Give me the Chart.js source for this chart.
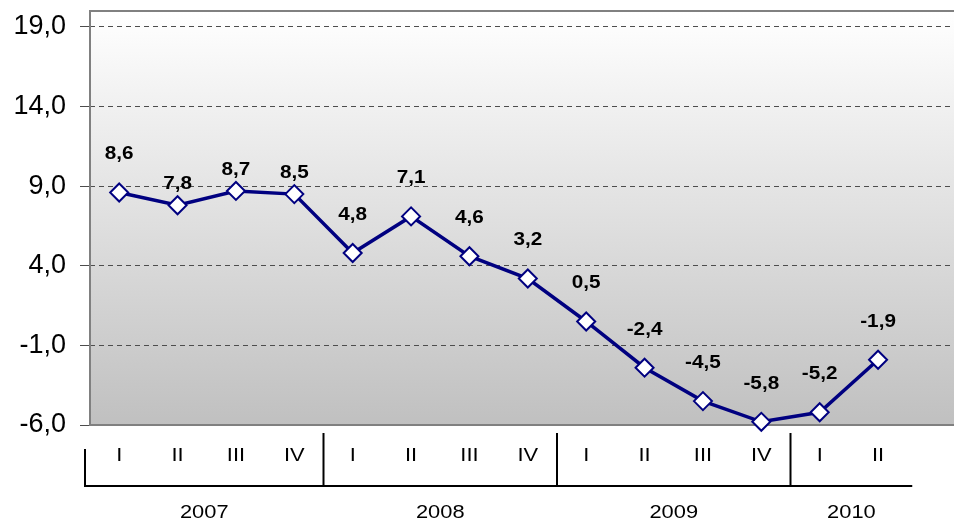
<!DOCTYPE html>
<html>
<head>
<meta charset="utf-8">
<script src="https://cdn.jsdelivr.net/npm/chart.js@4"></script>
<style>
  html, body { margin: 0; padding: 0; background: #fff; overflow: hidden; width: 954px; height: 521px; }
</style>
</head>
<body>
<canvas id="grafik" width="1035" height="521"></canvas>
<script>
// Data
const kuartal = ["I", "II", "III", "IV", "I", "II", "III", "IV", "I", "II", "III", "IV", "I", "II"];
const tahun = ["2007", "2008", "2009", "2010"];
const jumlahKuartal = [4, 4, 4, 2];
const nilai = [8.6, 7.8, 8.7, 8.5, 4.8, 7.1, 4.6, 3.2, 0.5, -2.4, -4.5, -5.8, -5.2, -1.9];
const yTicks = [-6, -1, 4, 9, 14, 19];

const FONT = "'Liberation Sans', Arial, sans-serif";
const LEBAR = 1.15; // teks aslinya agak melebar

function koma(v) {
  return Number(v).toFixed(1).replace(".", ",");
}

function tulis(ctx, teks, x, y) {
  ctx.save();
  ctx.translate(x, y);
  ctx.scale(LEBAR, 1);
  ctx.fillText(teks, 0, 0);
  ctx.restore();
}

// label yang letaknya lebih dekat ke titik
const labelDekat = [1, 2, 3];

// Latar gradasi + bingkai area plot
const latar = {
  id: "latar",
  beforeDraw(chart) {
    const { ctx, chartArea: a } = chart;
    const g = ctx.createLinearGradient(0, a.top, 0, a.bottom);
    g.addColorStop(0, "#ffffff");
    g.addColorStop(1, "#c0c0c0");
    ctx.save();
    ctx.fillStyle = g;
    ctx.fillRect(a.left, a.top, a.right - a.left, a.bottom - a.top);
    ctx.restore();
  },
  beforeDatasetsDraw(chart) {
    const { ctx, chartArea: a } = chart;
    ctx.save();
    ctx.strokeStyle = "#808080";
    ctx.lineWidth = 2;
    ctx.beginPath();
    ctx.moveTo(a.right, a.top);
    ctx.lineTo(a.left, a.top);
    ctx.lineTo(a.left, a.bottom);
    ctx.lineTo(a.right, a.bottom);
    ctx.stroke();
    ctx.restore();
  }
};

// Sumbu x dua tingkat (kuartal / tahun) + label nilai
const sumbuX = {
  id: "sumbuX",
  afterDraw(chart) {
    const { ctx, chartArea: a } = chart;
    const x = chart.scales.x;
    const step = x.getPixelForValue(1) - x.getPixelForValue(0);
    const kiri = x.getPixelForValue(0) - step / 2 - 5;
    const kanan = x.getPixelForValue(kuartal.length - 1) + step / 2 + 5;
    const yGaris = a.bottom + 61;

    ctx.save();
    ctx.fillStyle = "#000";
    ctx.textAlign = "center";
    ctx.textBaseline = "middle";
    ctx.font = "19px " + FONT;
    kuartal.forEach((k, i) => tulis(ctx, k, x.getPixelForValue(i), a.bottom + 31));

    ctx.strokeStyle = "#000";
    ctx.lineWidth = 2;
    ctx.beginPath();
    ctx.moveTo(kiri, a.bottom + 24);
    ctx.lineTo(kiri, yGaris);
    ctx.lineTo(kanan, yGaris);
    ctx.stroke();

    let awal = 0;
    let batasKiri = kiri;
    tahun.forEach((t, j) => {
      const akhir = awal + jumlahKuartal[j] - 1;
      let batasKanan = kanan;
      if (j < tahun.length - 1) {
        batasKanan = x.getPixelForValue(akhir) + step / 2;
        ctx.beginPath();
        ctx.moveTo(batasKanan, a.bottom + 8);
        ctx.lineTo(batasKanan, yGaris);
        ctx.stroke();
      }
      tulis(ctx, t, (batasKiri + batasKanan) / 2, a.bottom + 88);
      batasKiri = batasKanan;
      awal = akhir + 1;
    });
    ctx.restore();
  },
  afterDatasetsDraw(chart) {
    const { ctx } = chart;
    const meta = chart.getDatasetMeta(0);
    ctx.save();
    ctx.fillStyle = "#000";
    ctx.textAlign = "center";
    ctx.textBaseline = "middle";
    ctx.font = "bold 18px " + FONT;
    meta.data.forEach((p, i) => {
      const off = labelDekat.includes(i) ? 21 : 38;
      tulis(ctx, koma(nilai[i]), p.x, p.y - off);
    });
    ctx.restore();
  }
};

const ctx = document.getElementById("grafik").getContext("2d");
new Chart(ctx, {
  type: "line",
  data: {
    labels: kuartal.concat(["", ""]),
    datasets: [{
      data: nilai,
      borderColor: "#000080",
      borderWidth: 3.5,
      tension: 0,
      pointStyle: "rectRot",
      pointRadius: 9,
      pointBorderWidth: 2,
      pointBackgroundColor: "#ffffff",
      pointBorderColor: "#000080",
      clip: false
    }]
  },
  options: {
    responsive: false,
    animation: false,
    layout: { padding: { top: 11, left: 0, right: 0, bottom: 0 } },
    plugins: { legend: { display: false }, tooltip: { enabled: false } },
    scales: {
      x: {
        offset: true,
        ticks: { display: false },
        grid: { display: false },
        border: { display: false },
        afterFit: s => { s.height = 96; }
      },
      y: {
        min: -6,
        max: 20,
        afterBuildTicks: s => { s.ticks = yTicks.map(v => ({ value: v })); },
        afterFit: s => { s.width = 90; s.paddingTop = 0; s.paddingBottom = 0; },
        ticks: {
          color: "#000",
          padding: 14,
          font: { family: FONT, size: 27 },
          callback: v => koma(v)
        },
        grid: { color: "#4d4d4d", lineWidth: 1, tickLength: 10 },
        border: { display: false, dash: [5, 4] }
      }
    }
  },
  plugins: [latar, sumbuX]
});
</script>
</body>
</html>
